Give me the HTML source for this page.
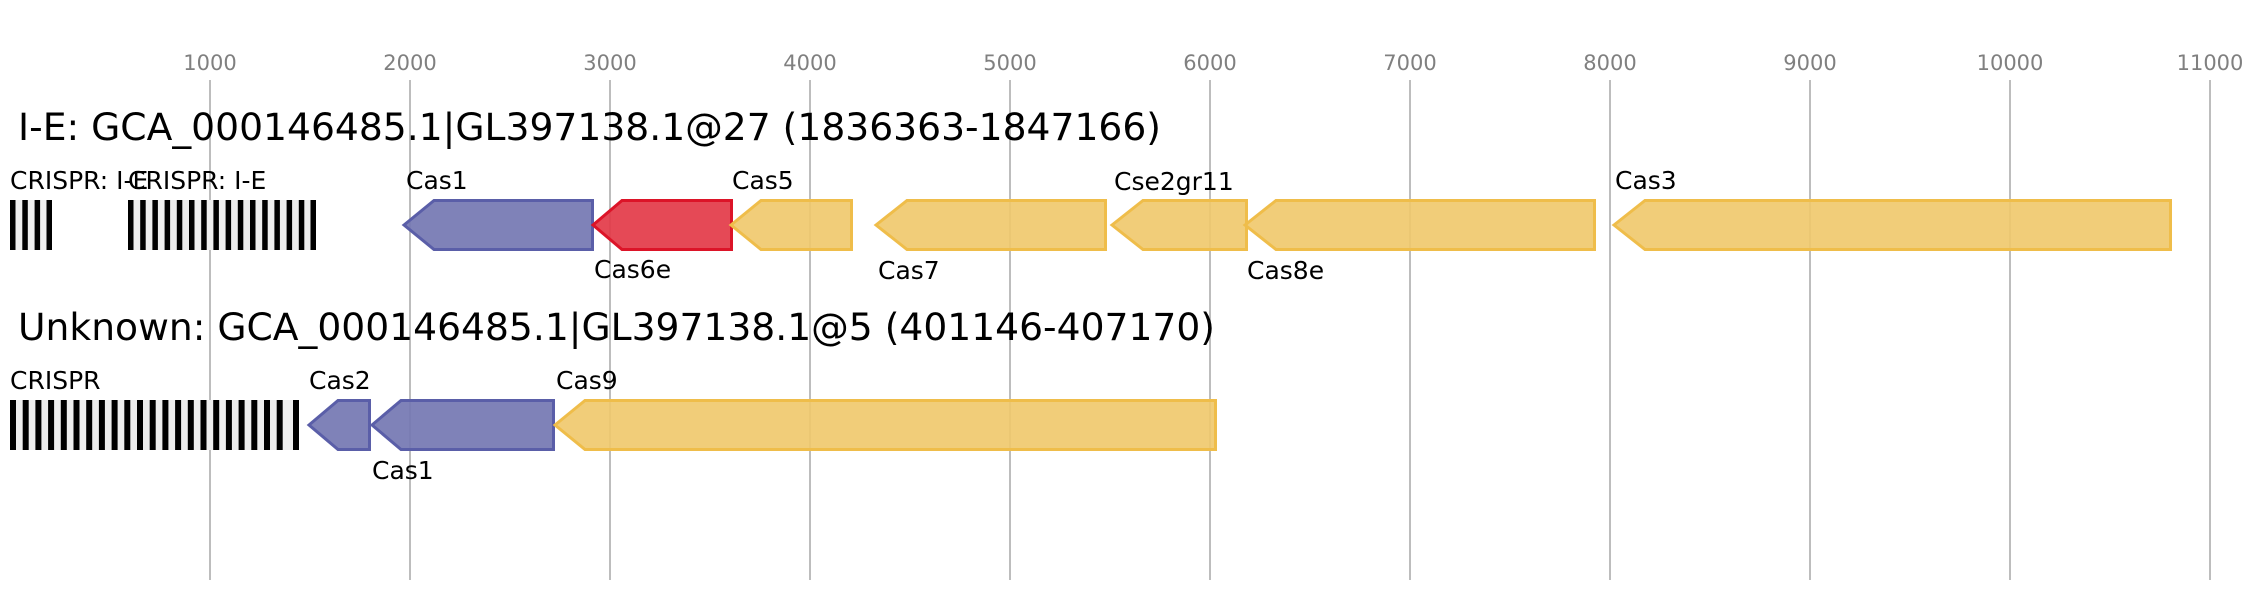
<!DOCTYPE html>
<html><head><meta charset="utf-8"><style>
html,body{margin:0;padding:0;background:#fff;}
svg{display:block;}
text{font-family:"DejaVu Sans","Liberation Sans",sans-serif;}
</style></head><body>
<svg width="2261" height="600" viewBox="0 0 2261 600" xmlns="http://www.w3.org/2000/svg">
<rect width="2261" height="600" fill="#fff"/>
<g stroke="#bdbdbd" stroke-width="2">
<line x1="210" y1="80" x2="210" y2="580"/>
<line x1="410" y1="80" x2="410" y2="580"/>
<line x1="610" y1="80" x2="610" y2="580"/>
<line x1="810" y1="80" x2="810" y2="580"/>
<line x1="1010" y1="80" x2="1010" y2="580"/>
<line x1="1210" y1="80" x2="1210" y2="580"/>
<line x1="1410" y1="80" x2="1410" y2="580"/>
<line x1="1610" y1="80" x2="1610" y2="580"/>
<line x1="1810" y1="80" x2="1810" y2="580"/>
<line x1="2010" y1="80" x2="2010" y2="580"/>
<line x1="2210" y1="80" x2="2210" y2="580"/>
</g>
<g fill="#808080" font-size="21" text-anchor="middle">
<text x="210" y="70">1000</text><text x="410" y="70">2000</text><text x="610" y="70">3000</text>
<text x="810" y="70">4000</text><text x="1010" y="70">5000</text><text x="1210" y="70">6000</text>
<text x="1410" y="70">7000</text><text x="1610" y="70">8000</text><text x="1810" y="70">9000</text>
<text x="2010" y="70">10000</text><text x="2210" y="70">11000</text>
</g>
<text x="18" y="140" font-size="37" textLength="1143" lengthAdjust="spacingAndGlyphs">I-E: GCA_000146485.1|GL397138.1@27 (1836363-1847166)</text>
<text x="18" y="340" font-size="37" textLength="1197" lengthAdjust="spacingAndGlyphs">Unknown: GCA_000146485.1|GL397138.1@5 (401146-407170)</text>

<rect x="10" y="200" width="42" height="50" fill="#eee"/>
<g fill="#000">
<rect x="10" y="200" width="5.5" height="50"/><rect x="22.3" y="200" width="5.5" height="50"/>
<rect x="34.6" y="200" width="5.5" height="50"/><rect x="46.5" y="200" width="5.5" height="50"/>
</g>
<rect x="128" y="200" width="188" height="50" fill="#eee"/>
<rect x="10" y="400" width="289" height="50" fill="#eee"/>

<g font-size="25" fill="#000">
<text x="10" y="189">CRISPR: I-E</text>
<text x="128" y="189">CRISPR: I-E</text>
<text x="406" y="189">Cas1</text>
<text x="594" y="278">Cas6e</text>
<text x="732" y="189">Cas5</text>
<text x="878" y="279">Cas7</text>
<text x="1114" y="190">Cse2gr11</text>
<text x="1247" y="279">Cas8e</text>
<text x="1615" y="189">Cas3</text>
<text x="10" y="389">CRISPR</text>
<text x="309" y="389">Cas2</text>
<text x="372" y="479">Cas1</text>
<text x="556" y="389">Cas9</text>
</g>

<g stroke-width="3" stroke-linejoin="miter">
<polygon points="404,225 434,200.5 592.5,200.5 592.5,249.5 434,249.5" fill="#7477b2" fill-opacity="0.92" stroke="#5a5ea8"/>
<polygon points="593,225 622,200.5 731.5,200.5 731.5,249.5 622,249.5" fill="#e33a48" fill-opacity="0.92" stroke="#dc1428"/>
<polygon points="731,225 761,200.5 851.5,200.5 851.5,249.5 761,249.5" fill="#f0c86a" fill-opacity="0.9" stroke="#efbd4a"/>
<polygon points="876,225 907,200.5 1105.5,200.5 1105.5,249.5 907,249.5" fill="#f0c86a" fill-opacity="0.9" stroke="#efbd4a"/>
<polygon points="1112,225 1143,200.5 1246.5,200.5 1246.5,249.5 1143,249.5" fill="#f0c86a" fill-opacity="0.9" stroke="#efbd4a"/>
<polygon points="1245,225 1276,200.5 1594.5,200.5 1594.5,249.5 1276,249.5" fill="#f0c86a" fill-opacity="0.9" stroke="#efbd4a"/>
<polygon points="1614,225 1645,200.5 2170.5,200.5 2170.5,249.5 1645,249.5" fill="#f0c86a" fill-opacity="0.9" stroke="#efbd4a"/>

<polygon points="309,425 338,400.5 369.5,400.5 369.5,449.5 338,449.5" fill="#7477b2" fill-opacity="0.92" stroke="#5a5ea8"/>
<polygon points="372,425 401,400.5 553.5,400.5 553.5,449.5 401,449.5" fill="#7477b2" fill-opacity="0.92" stroke="#5a5ea8"/>
<polygon points="555,425 585,400.5 1215.5,400.5 1215.5,449.5 585,449.5" fill="#f0c86a" fill-opacity="0.9" stroke="#efbd4a"/>
</g>

<g fill="#000">
<rect x="128" y="200" width="5.5" height="50"/><rect x="140.2" y="200" width="5.5" height="50"/>
<rect x="152.4" y="200" width="5.5" height="50"/><rect x="164.6" y="200" width="5.5" height="50"/>
<rect x="176.8" y="200" width="5.5" height="50"/><rect x="189" y="200" width="5.5" height="50"/>
<rect x="201.2" y="200" width="5.5" height="50"/><rect x="213.4" y="200" width="5.5" height="50"/>
<rect x="225.6" y="200" width="5.5" height="50"/><rect x="237.8" y="200" width="5.5" height="50"/>
<rect x="250" y="200" width="5.5" height="50"/><rect x="262.2" y="200" width="5.5" height="50"/>
<rect x="274.4" y="200" width="5.5" height="50"/><rect x="286.6" y="200" width="5.5" height="50"/>
<rect x="298.8" y="200" width="5.5" height="50"/><rect x="310.5" y="200" width="5.5" height="50"/>
</g>
<g fill="#000">
<rect x="10" y="400" width="6" height="50"/><rect x="22.7" y="400" width="6" height="50"/>
<rect x="35.4" y="400" width="6" height="50"/><rect x="48.1" y="400" width="6" height="50"/>
<rect x="60.8" y="400" width="6" height="50"/><rect x="73.5" y="400" width="6" height="50"/>
<rect x="86.2" y="400" width="6" height="50"/><rect x="98.9" y="400" width="6" height="50"/>
<rect x="111.6" y="400" width="6" height="50"/><rect x="124.3" y="400" width="6" height="50"/>
<rect x="137" y="400" width="6" height="50"/><rect x="149.7" y="400" width="6" height="50"/>
<rect x="162.4" y="400" width="6" height="50"/><rect x="175.1" y="400" width="6" height="50"/>
<rect x="187.8" y="400" width="6" height="50"/><rect x="200.5" y="400" width="6" height="50"/>
<rect x="213.2" y="400" width="6" height="50"/><rect x="225.9" y="400" width="6" height="50"/>
<rect x="238.6" y="400" width="6" height="50"/><rect x="251.3" y="400" width="6" height="50"/>
<rect x="264" y="400" width="6" height="50"/><rect x="276.7" y="400" width="6" height="50"/>
<rect x="293" y="400" width="6" height="50"/>
</g>
</svg>
</body></html>
